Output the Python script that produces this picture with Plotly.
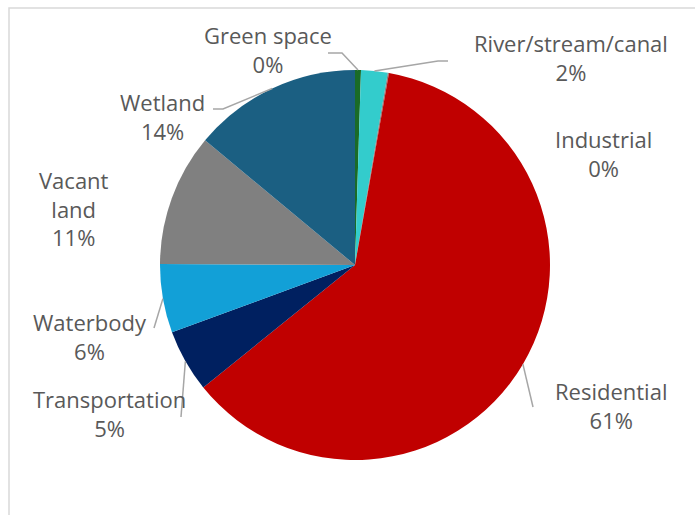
import math
import plotly.graph_objects as go

# Land-use shares (%), clockwise from 12 o'clock
categories = ["Green space", "River/stream/canal", "Industrial", "Residential",
              "Transportation", "Waterbody", "Vacant land", "Wetland"]
values = [0.49, 2.2, 0.1, 61.4, 5.2, 5.7, 10.95, 13.96]
colors = ["#1a6b27", "#33cccc", "#7f7f7f", "#c00000",
          "#002060", "#12a0d7", "#808080", "#1b5f82"]
# Label text as wrapped on the chart
label_lines = ["Green space", "River/stream/canal", "Industrial", "Residential",
               "Transportation", "Waterbody", "Vacant<br>land", "Wetland"]

W, H = 695, 515
CX, CY, R = 355, 265, 195          # pie centre and radius in pixels
TEXT_COLOR = "#595959"
LINE_COLOR = "#a6a6a6"
FONT = "Open Sans"

# label block centres (pixels)
label_pos = {
    "Green space": (268, 50),
    "River/stream/canal": (571, 57),
    "Industrial": (603, 153),
    "Residential": (611, 405),
    "Transportation": (110, 413),
    "Waterbody": (90, 336),
    "Vacant land": (74, 209),
    "Wetland": (162, 116),
}
# leader-line route after leaving the slice edge (pixels)
leader_route = {
    "Green space": [(342, 53), (328, 53)],
    "River/stream/canal": [(438, 61), (448, 61)],
    "Wetland": [(223, 109), (213, 109)],
    "Waterbody": [(154, 328)],
    "Transportation": [(181, 417)],
    "Residential": [(533, 407)],
}


def px(x):
    return x / W


def py(y):
    return 1 - y / H


fig = go.Figure(go.Pie(
    labels=categories,
    values=values,
    marker=dict(colors=colors, line=dict(width=0)),
    sort=False,
    direction="clockwise",
    rotation=0,
    textinfo="none",
    hoverinfo="label+percent",
    domain=dict(x=[px(CX - R), px(CX + R)], y=[py(CY + R), py(CY - R)]),
    showlegend=False,
))

total = sum(values)
annotations = []
shapes = []
cum = 0.0
for name, lab, v in zip(categories, label_lines, values):
    pct = v / total * 100
    mid = (cum + v / 2) / total * 2 * math.pi
    cum += v
    lx, ly = label_pos[name]
    annotations.append(dict(
        x=px(lx), y=py(ly), xref="paper", yref="paper",
        text=f"{lab}<br>{int(pct + 0.5)}%", showarrow=False,
        xanchor="center", yanchor="middle", align="center",
        font=dict(family=FONT, size=22, color=TEXT_COLOR),
    ))
    if name in leader_route:
        sx = CX + R * math.sin(mid)
        sy = CY - R * math.cos(mid)
        pts = [(sx, sy)] + leader_route[name]
        path = "M " + " L ".join(f"{px(x):.5f},{py(y):.5f}" for x, y in pts)
        shapes.append(dict(type="path", path=path, xref="paper", yref="paper",
                           line=dict(color=LINE_COLOR, width=1.5)))

# chart frame
shapes.append(dict(type="rect", xref="paper", yref="paper",
                   x0=px(9), x1=1.2, y0=-0.2, y1=py(8),
                   line=dict(color="#d9d9d9", width=1.5), layer="below"))

fig.update_layout(
    width=W, height=H,
    margin=dict(l=0, r=0, t=0, b=0),
    paper_bgcolor="white", plot_bgcolor="white",
    annotations=annotations,
    shapes=shapes,
    font=dict(family=FONT, color=TEXT_COLOR),
)

fig.write_html("out.html")
